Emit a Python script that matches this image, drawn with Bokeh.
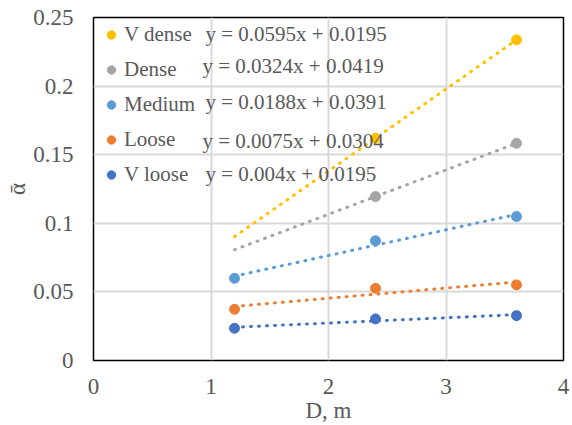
import numpy as np
from bokeh.plotting import figure
from bokeh.models import Legend, LegendItem, Label, FixedTicker, Range1d
from bokeh.embed import file_html
from bokeh.resources import INLINE

# ---- data ----
D = [1.2, 2.4, 3.6]
series_names = ["V dense", "Dense", "Medium", "Loose", "V loose"]
v_dense = [np.nan, 0.1620, 0.2337]
dense = [np.nan, 0.1195, 0.1583]
medium = [0.0599, 0.0872, 0.1049]
loose = [0.0373, 0.0526, 0.0551]
v_loose = [0.0235, 0.0303, 0.0327]
equations = ["y = 0.0595x + 0.0195", "y = 0.0324x + 0.0419", "y = 0.0188x + 0.0391",
             "y = 0.0075x + 0.0304", "y = 0.004x + 0.0195"]
colors = ["#FFC000", "#A5A5A5", "#5B9BD5", "#ED7D31", "#4472C4"]
x_ticks = [0, 1, 2, 3, 4]
y_ticks = [0, 0.05, 0.1, 0.15, 0.2, 0.25]
y_tick_labels = ["0", "0.05", "0.1", "0.15", "0.2", "0.25"]

all_series = [v_dense, dense, medium, loose, v_loose]

FONT = "'Liberation Serif', serif"
GREY = "#595959"

p = figure(width=572, height=425, output_backend="svg", toolbar_location=None,
           x_range=Range1d(0, 4), y_range=Range1d(0, 0.25),
           min_border_left=93, min_border_right=9, min_border_top=17, min_border_bottom=65)
p.background_fill_color = "white"
p.border_fill_color = "white"
p.outline_line_color = "black"
p.outline_line_width = 1.5

p.xaxis.ticker = FixedTicker(ticks=x_ticks)
p.yaxis.ticker = FixedTicker(ticks=y_ticks)
p.yaxis.major_label_overrides = {t: l for t, l in zip(y_ticks, y_tick_labels)}
for ax in (p.xaxis[0], p.yaxis[0]):
    ax.axis_line_color = None
    ax.major_tick_line_color = None
    ax.minor_tick_line_color = None
    ax.major_tick_out = 0
    ax.major_tick_in = 0
    ax.major_label_text_font = FONT
    ax.major_label_text_font_size = "23px"
    ax.major_label_text_color = GREY
    ax.axis_label_text_font = FONT
    ax.axis_label_text_font_size = "23px"
    ax.axis_label_text_color = GREY
    ax.axis_label_text_font_style = "normal"
p.xaxis.axis_label = "D, m"
p.yaxis.axis_label = "ᾱ"
p.yaxis.axis_label_text_align = "right"
p.xaxis.major_label_standoff = 18
p.yaxis.major_label_standoff = 20
p.xaxis.axis_label_standoff = 1
p.yaxis.axis_label_standoff = 0

p.xgrid.ticker = FixedTicker(ticks=x_ticks)
p.ygrid.ticker = FixedTicker(ticks=y_ticks)
p.grid.grid_line_color = "#D9D9D9"
p.grid.grid_line_width = 2

Dx = np.array(D)
scatter_renderers = []
for vals, c in zip(all_series, colors):
    y = np.array(vals, dtype=float)
    ok = ~np.isnan(y)
    k, b = np.polyfit(Dx[ok], y[ok], 1)
    xs = [Dx.min(), Dx.max()]
    p.line(xs, [k * xs[0] + b, k * xs[1] + b], line_color=c, line_width=3,
           line_dash="1 7", line_cap="round")
for vals, c in zip(all_series, colors):
    y = np.array(vals, dtype=float)
    ok = ~np.isnan(y)
    r = p.scatter(Dx[ok], y[ok], size=10, marker="circle", fill_color=c, line_color=c)
    scatter_renderers.append(r)

legend = Legend(items=[LegendItem(label=n, renderers=[r]) for n, r in zip(series_names, scatter_renderers)],
                location="top_left")
legend.background_fill_alpha = 0
legend.border_line_color = None
legend.margin = 5
legend.padding = 0
legend.glyph_width = 26
legend.glyph_height = 21
legend.label_height = 21
legend.spacing = 10
legend.label_standoff = 0
legend.label_text_font = FONT
legend.label_text_font_size = "21px"
legend.label_text_color = GREY
p.add_layout(legend)

eq_x = [112, 109, 112, 109, 112]
eq_y = [327, 295, 259, 220, 187]
for t, ex, ey in zip(equations, eq_x, eq_y):
    p.add_layout(Label(x=ex, y=ey, x_units="screen", y_units="screen", text=t,
                       text_font=FONT, text_font_size="21px", text_color=GREY,
                       text_baseline="middle", text_align="left"))

open("out.html", "w").write(file_html(p, INLINE))
